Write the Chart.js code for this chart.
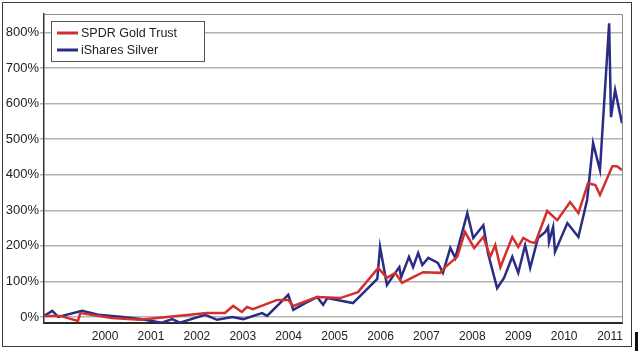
<!DOCTYPE html>
<html>
<head>
<meta charset="utf-8">
<title>SPDR Gold Trust vs iShares Silver</title>
<script src="https://cdn.jsdelivr.net/npm/chart.js@4/dist/chart.umd.min.js"></script>
<style>
    html, body { margin: 0; padding: 0; background: #fff; }
    #wrap { width: 640px; height: 351px; }
</style>
</head>
<body>
<div id="wrap"><canvas id="etfChart" width="640" height="351"></canvas></div>
<script>
// Cumulative return (%), x as decimal year
const goldYears = [1998.67, 1999.02, 1999.41, 1999.46, 2000.15, 2000.76, 2001.35, 2002.22, 2002.61, 2002.79,
    2002.98, 2003.09, 2003.22, 2003.75, 2003.99, 2004.10, 2004.62, 2005.12, 2005.51, 2005.95,
    2006.14, 2006.32, 2006.47, 2006.71, 2006.93, 2007.30, 2007.41, 2007.67, 2007.84, 2008.04,
    2008.24, 2008.39, 2008.50, 2008.61, 2008.87, 2009.00, 2009.11, 2009.26, 2009.37, 2009.63,
    2009.85, 2010.13, 2010.31, 2010.52, 2010.68, 2010.78, 2011.05, 2011.15, 2011.26];
const goldReturns = [3, 3, -11, 11, -3, -8, 0, 11, 11, 31,
    14, 28, 22, 48, 48, 31, 56, 53, 70, 138,
    110, 124, 96, 112, 126, 124, 140, 169, 239, 194,
    225, 169, 202, 140, 225, 197, 222, 211, 208, 298,
    272, 323, 292, 376, 371, 343, 424, 424, 413];

const silverYears = [1998.67, 1998.85, 1998.98, 1999.50, 1999.85, 2000.39, 2000.76, 2001.24, 2001.46, 2001.63,
    2002.18, 2002.44, 2002.77, 2003.01, 2003.42, 2003.53, 2003.99, 2004.10, 2004.36, 2004.62,
    2004.75, 2004.84, 2005.40, 2005.93, 2005.99, 2006.14, 2006.32, 2006.41, 2006.45, 2006.62,
    2006.71, 2006.82, 2006.91, 2007.04, 2007.25, 2007.36, 2007.52, 2007.63, 2007.89, 2008.02,
    2008.24, 2008.34, 2008.54, 2008.69, 2008.87, 2009.00, 2009.15, 2009.26, 2009.43, 2009.59,
    2009.65, 2009.67, 2009.76, 2009.80, 2010.07, 2010.31, 2010.50, 2010.63, 2010.78, 2010.98,
    2011.02, 2011.11, 2011.26];
const silverReturns = [3, 17, 0, 17, 6, 0, -6, -16, -6, -16,
    6, -8, 0, -6, 11, 3, 62, 20, 39, 56,
    34, 53, 39, 107, 197, 90, 124, 140, 112, 169,
    140, 180, 146, 166, 152, 124, 194, 166, 292, 222,
    258, 180, 81, 110, 169, 124, 202, 138, 222, 239,
    253, 211, 253, 183, 264, 225, 329, 489, 413, 826,
    562, 638, 545];

const seriesNames = ['SPDR Gold Trust', 'iShares Silver'];
const seriesColors = ['#d3302d', '#2b2c85'];
const yearTicks = [2000, 2001, 2002, 2003, 2004, 2005, 2006, 2007, 2008, 2009, 2010, 2011];
const percentTicks = [0, 100, 200, 300, 400, 500, 600, 700, 800];

function toPoints(xs, ys) {
    return xs.map((x, i) => ({ x: x, y: ys[i] }));
}

// White background, plot frame, outer frame and boxed legend
const framePlugin = {
    id: 'frame',
    beforeDraw(chart) {
        const ctx = chart.ctx;
        ctx.save();
        ctx.fillStyle = '#fff';
        ctx.fillRect(0, 0, chart.width, chart.height);
        ctx.restore();
    },
    afterDraw(chart) {
        const ctx = chart.ctx;
        const area = chart.chartArea;
        ctx.save();

        // top and right edge of the plot
        ctx.strokeStyle = '#8a8a8a';
        ctx.lineWidth = 1;
        ctx.beginPath();
        ctx.moveTo(area.left, area.top + 0.5);
        ctx.lineTo(area.right + 0.5, area.top + 0.5);
        ctx.lineTo(area.right + 0.5, area.bottom);
        ctx.stroke();

        // outer frame
        ctx.strokeStyle = '#3a3a3a';
        ctx.strokeRect(2.5, 2.5, 629, 344);
        ctx.fillStyle = '#111';
        ctx.fillRect(635, 332, 3, 19);

        // legend box
        ctx.fillStyle = '#fff';
        ctx.fillRect(51.5, 21.5, 153, 40);
        ctx.strokeStyle = '#555';
        ctx.strokeRect(51.5, 21.5, 153, 40);
        ctx.font = '12.5px "Liberation Sans", Arial, sans-serif';
        ctx.textBaseline = 'middle';
        chart.data.datasets.forEach((ds, i) => {
            const y = 33 + i * 17;
            ctx.strokeStyle = ds.borderColor;
            ctx.lineWidth = 3;
            ctx.beginPath();
            ctx.moveTo(57, y);
            ctx.lineTo(78, y);
            ctx.stroke();
            ctx.fillStyle = '#222';
            ctx.fillText(ds.label, 81, y + 0.5);
        });
        ctx.restore();
    }
};

const ctx = document.getElementById('etfChart').getContext('2d');
const etfChart = new Chart(ctx, {
    type: 'line',
    data: {
        datasets: [{
            label: seriesNames[0],
            data: toPoints(goldYears, goldReturns),
            borderColor: seriesColors[0],
            borderWidth: 2.5,
            pointRadius: 0,
            tension: 0
        }, {
            label: seriesNames[1],
            data: toPoints(silverYears, silverReturns),
            borderColor: seriesColors[1],
            borderWidth: 2.5,
            pointRadius: 0,
            tension: 0
        }]
    },
    options: {
        responsive: false,
        devicePixelRatio: 1,
        animation: false,
        layout: {
            padding: { left: 0, right: 18, top: 14, bottom: 0 }
        },
        plugins: {
            legend: { display: false },
            tooltip: { enabled: false }
        },
        scales: {
            x: {
                type: 'linear',
                min: 1998.67,
                max: 2011.26,
                afterFit: scale => { scale.height = 28; },
                afterBuildTicks: scale => {
                    scale.ticks = yearTicks.map(v => ({ value: v }));
                },
                grid: { display: true, drawOnChartArea: false, drawTicks: false },
                border: { display: true, color: '#2a2a2a', width: 2 },
                ticks: {
                    padding: 6,
                    color: '#222',
                    font: { family: '"Liberation Sans", Arial, sans-serif', size: 12 },
                    maxRotation: 0,
                    callback: v => String(v)
                }
            },
            y: {
                min: -17,
                max: 852,
                afterFit: scale => { scale.width = 44; },
                afterBuildTicks: scale => {
                    scale.ticks = percentTicks.map(v => ({ value: v }));
                },
                grid: { color: '#b3b3b3', lineWidth: 1.5, drawTicks: true, tickLength: 4 },
                border: { display: true, color: '#333', width: 1.5 },
                ticks: {
                    padding: 1,
                    color: '#222',
                    font: { family: '"Liberation Sans", Arial, sans-serif', size: 13 },
                    callback: v => v + '%'
                }
            }
        }
    },
    plugins: [framePlugin]
});
</script>
</body>
</html>
